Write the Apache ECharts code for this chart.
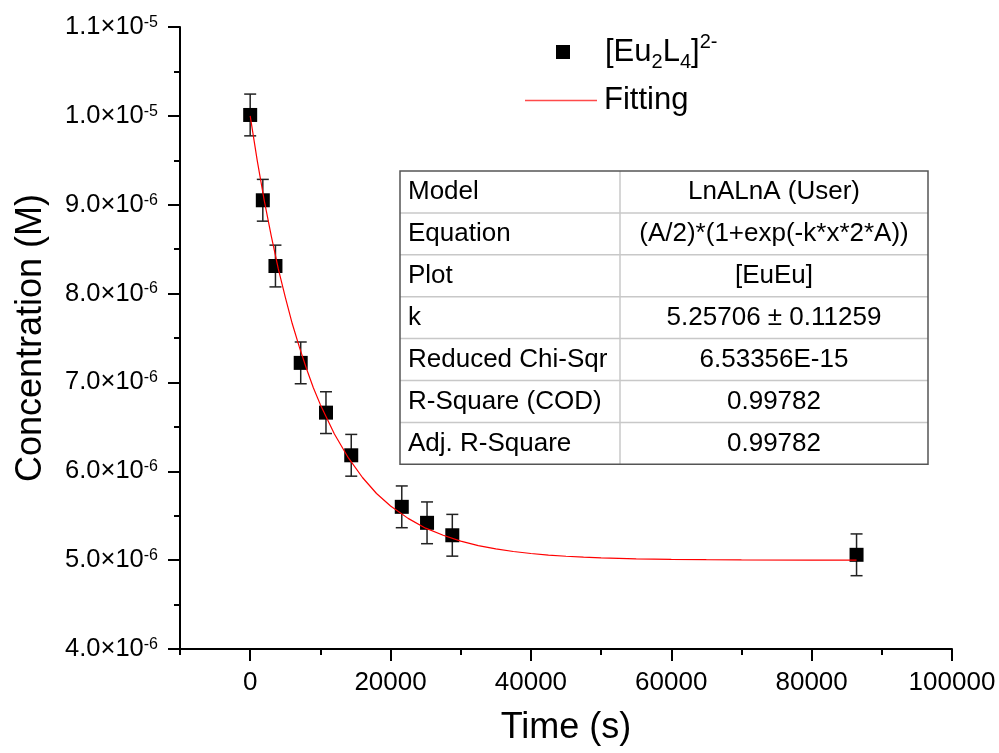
<!DOCTYPE html>
<html>
<head>
<meta charset="utf-8">
<script src="https://cdn.jsdelivr.net/npm/echarts@6/dist/echarts.min.js"></script>
<style>
  html, body { margin: 0; padding: 0; background: #fff; }
  #main { width: 999px; height: 753px; }
</style>
</head>
<body>
<div id="main"></div>
<script>
// measured points (time in s, concentration in M)
var timeS = [0, 1800, 3600, 7200, 10800, 14400, 21600, 25200, 28800, 86400];
var conc = [1.001e-5, 9.05e-6, 8.31e-6, 7.22e-6, 6.66e-6, 6.18e-6, 5.60e-6, 5.42e-6, 5.28e-6, 5.06e-6];
var concErr = [2.35e-7, 2.35e-7, 2.35e-7, 2.35e-7, 2.35e-7, 2.35e-7, 2.35e-7, 2.35e-7, 2.35e-7, 2.35e-7];

// fitted curve
var fitTime = [0, 1000, 2000, 3000, 4000, 5000, 6000, 7000, 8000, 9000, 10000, 12000, 14000, 16000,
  18000, 20000, 22500, 25000, 27500, 30000, 32500, 35000, 37500, 40000, 42500, 45000, 47500, 50000,
  55000, 60000, 65000, 70000, 80000, 86400];
var fitConc = [1.000e-5, 9.50e-6, 9.05e-6, 8.65e-6, 8.28e-6, 7.96e-6, 7.66e-6, 7.40e-6, 7.16e-6, 6.94e-6,
  6.75e-6, 6.42e-6, 6.15e-6, 5.93e-6, 5.75e-6, 5.61e-6, 5.47e-6, 5.36e-6, 5.28e-6, 5.214e-6, 5.164e-6,
  5.126e-6, 5.097e-6, 5.075e-6, 5.057e-6, 5.044e-6, 5.034e-6, 5.026e-6, 5.015e-6, 5.009e-6, 5.005e-6,
  5.003e-6, 5.001e-6, 5.000e-6];

var xMajorTicks = [0, 20000, 40000, 60000, 80000, 100000];
var xMinorTicks = [-10000, 10000, 30000, 50000, 70000, 90000];

var tableKeys = ['Model', 'Equation', 'Plot', 'k', 'Reduced Chi-Sqr', 'R-Square (COD)', 'Adj. R-Square'];
var tableValues = ['LnALnA (User)', '(A/2)*(1+exp(-k*x*2*A))', '[EuEu]', '5.25706 \u00b1 0.11259',
  '6.53356E-15', '0.99782', '0.99782'];

var seriesName = '[Eu2L4]2-';
var FONT = 'Liberation Sans, Arial, Helvetica, sans-serif';

var chart = echarts.init(document.getElementById('main'));

var points = timeS.map(function (t, i) { return [t, conc[i]]; });
var errData = timeS.map(function (t, i) { return [t, conc[i], concErr[i]]; });
var fitData = fitTime.map(function (t, i) { return [t, fitConc[i]]; });

function renderErr(params, api) {
  var x = api.value(0), y = api.value(1), e = api.value(2);
  var hi = api.coord([x, y + e]);
  var lo = api.coord([x, y - e]);
  var w = 6;
  var st = { stroke: '#222', lineWidth: 1.5 };
  return {
    type: 'group',
    children: [
      { type: 'line', shape: { x1: hi[0], y1: hi[1], x2: lo[0], y2: lo[1] }, style: st },
      { type: 'line', shape: { x1: hi[0] - w, y1: hi[1], x2: hi[0] + w, y2: hi[1] }, style: st },
      { type: 'line', shape: { x1: lo[0] - w, y1: lo[1], x2: lo[0] + w, y2: lo[1] }, style: st }
    ]
  };
}

// table drawn as graphic
var tblX = 400, tblY = 171, rowH = 41.9, col1 = 220, col2 = 308;
var tbl = [];
tableKeys.forEach(function (k, i) {
  var cy = tblY + rowH * (i + 0.5);
  tbl.push({ type: 'text', x: tblX + 8, y: cy,
    style: { text: k, font: '26px ' + FONT, fill: '#000', verticalAlign: 'middle' } });
  tbl.push({ type: 'text', x: tblX + col1 + col2 / 2, y: cy,
    style: { text: tableValues[i], font: '26px ' + FONT, fill: '#000', align: 'center', verticalAlign: 'middle' } });
  if (i > 0) {
    tbl.push({ type: 'line', shape: { x1: tblX, y1: tblY + rowH * i, x2: tblX + col1 + col2, y2: tblY + rowH * i },
      style: { stroke: '#c8c8c8', lineWidth: 1.5 } });
  }
});
tbl.push({ type: 'line', shape: { x1: tblX + col1, y1: tblY, x2: tblX + col1, y2: tblY + rowH * 7 },
  style: { stroke: '#c8c8c8', lineWidth: 1.5 } });
tbl.push({ type: 'rect', shape: { x: tblX, y: tblY, width: col1 + col2, height: rowH * 7 },
  style: { fill: 'none', stroke: '#555', lineWidth: 1.5 } });

function yLabel(v) {
  var e = Math.floor(Math.log10(v) + 1e-9);
  var m = v / Math.pow(10, e);
  return '{b|' + m.toFixed(1) + '\u00d710}{sup|' + e + '}';
}

var option = {
  backgroundColor: '#fff',
  animation: false,
  textStyle: { fontFamily: FONT },
  grid: { left: 180, right: 47, top: 27, bottom: 104, outerBoundsMode: 'none' },
  legend: [{
    data: [{ name: seriesName, icon: 'rect', itemStyle: { color: '#000', opacity: 1 } }],
    left: 551, top: 27,
    itemWidth: 14, itemHeight: 14,
    formatter: function () { return '[Eu{sub|2}L{sub|4}]{sup|2-}'; },
    textStyle: {
      fontSize: 31, color: '#000', lineHeight: 40, padding: [0, 0, 0, 30],
      rich: {
        sub: { fontSize: 20, lineHeight: 40, verticalAlign: 'bottom', color: '#000' },
        sup: { fontSize: 20, lineHeight: 40, verticalAlign: 'top', color: '#000' }
      }
    }
  }, {
    data: [{ name: 'Fitting', icon: 'rect', itemStyle: { color: '#ff4a4a' } }],
    left: 520, top: 80,
    itemWidth: 72, itemHeight: 1.6,
    textStyle: { fontSize: 31, color: '#000', padding: [0, 0, 0, 2] }
  }],
  xAxis: [{
    type: 'value', min: -10000, max: 100000, interval: 10000,
    name: 'Time (s)', nameLocation: 'middle', nameGap: 61,
    nameTextStyle: { fontSize: 36, color: '#000' },
    axisLine: { onZero: false, lineStyle: { color: '#000', width: 2 } },
    axisTick: { length: 12, customValues: xMajorTicks, lineStyle: { color: '#000', width: 2 } },
    axisLabel: { customValues: xMajorTicks, fontSize: 26, color: '#000', margin: 21,
      formatter: function (v) { return String(v); } },
    splitLine: { show: false }
  }, {
    type: 'value', min: -10000, max: 100000, interval: 10000, position: 'bottom',
    axisLine: { show: false, onZero: false },
    axisTick: { length: 6, customValues: xMinorTicks, lineStyle: { color: '#000', width: 2 } },
    axisLabel: { show: false },
    splitLine: { show: false }
  }],
  yAxis: {
    type: 'value', min: 4e-6, max: 1.1e-5, interval: 1e-6,
    name: 'Concentration (M)', nameLocation: 'middle', nameGap: 131,
    nameTextStyle: { fontSize: 36, color: '#000' },
    axisLine: { show: true, onZero: false, lineStyle: { color: '#000', width: 2 } },
    axisTick: { length: 12, lineStyle: { color: '#000', width: 2 } },
    minorTick: { show: true, splitNumber: 2, length: 6, lineStyle: { color: '#000', width: 2 } },
    axisLabel: {
      margin: 22, color: '#000', fontSize: 25.5, formatter: yLabel,
      rich: {
        b: { fontSize: 25.5, lineHeight: 25, color: '#000' },
        sup: { fontSize: 16, lineHeight: 25, verticalAlign: 'top', color: '#000' }
      }
    },
    splitLine: { show: false }
  },
  graphic: [{ type: 'group', children: tbl, z: 100 }],
  series: [{
    name: 'err', type: 'custom', renderItem: renderErr, data: errData, z: 2,
    encode: { x: 0, y: [1, 2] }
  }, {
    name: seriesName, type: 'scatter', data: points, symbol: 'rect', symbolSize: 14,
    itemStyle: { color: '#000', opacity: 1 }, z: 3
  }, {
    name: 'Fitting', type: 'line', data: fitData, smooth: false,
    symbol: 'none', lineStyle: { color: '#ff0000', width: 1.2 }, itemStyle: { color: '#ff0000' }, z: 4
  }]
};

chart.setOption(option);
</script>
</body>
</html>
